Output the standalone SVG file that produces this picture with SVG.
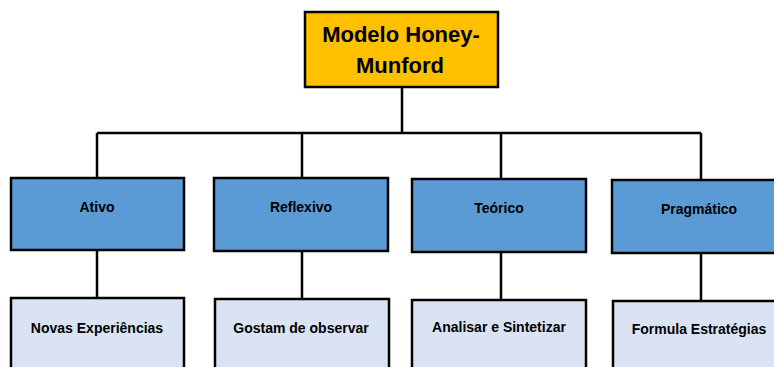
<svg xmlns="http://www.w3.org/2000/svg" width="774" height="367" viewBox="0 0 774 367">
<style>
.box{stroke:#000;stroke-width:2.5}
.top{fill:#FFC000}
.mid{fill:#5B9BD5}
.low{fill:#DAE3F3}
.conn{stroke:#000;stroke-width:2.5;fill:none}
text{font-family:"Liberation Sans",Arial,sans-serif;font-weight:bold;text-anchor:middle;fill:#000}
.t1{font-size:22px}
.t2{font-size:14px}
</style>
<rect width="774" height="367" fill="#fff"/>
<g id="connectors">
<path class="conn" d="M402 87V133M97 133H701M97 133V178M302 133V178M501 133V179M701 133V180"/>
<path class="conn" d="M97 250V298M302 251V299M501 252V300M701 253V301"/>
</g>
<g id="n-root"><rect class="box top" x="305" y="12" width="193" height="75"/><text class="t1" x="401" y="42">Modelo Honey-</text><text class="t1" x="400" y="73">Munford</text></g>
<g id="n-ativo"><rect class="box mid" x="11" y="178" width="173" height="72"/><text class="t2" x="97" y="212">Ativo</text></g>
<g id="n-reflexivo"><rect class="box mid" x="214" y="178" width="174" height="73"/><text class="t2" x="301" y="212">Reflexivo</text></g>
<g id="n-teorico"><rect class="box mid" x="412" y="179" width="174" height="73"/><text class="t2" x="499" y="213">Teórico</text></g>
<g id="n-pragmatico"><rect class="box mid" x="612" y="180" width="180" height="73"/><text class="t2" x="699" y="214">Pragmático</text></g>
<g id="n-novas"><rect class="box low" x="11" y="298" width="173" height="80"/><text class="t2" x="97" y="333">Novas Experiências</text></g>
<g id="n-gostam"><rect class="box low" x="215" y="299" width="174" height="80"/><text class="t2" x="301" y="333">Gostam de observar</text></g>
<g id="n-analisar"><rect class="box low" x="412" y="300" width="174" height="80"/><text class="t2" x="499" y="332">Analisar e Sintetizar</text></g>
<g id="n-formula"><rect class="box low" x="613" y="301" width="180" height="80"/><text class="t2" x="699" y="334">Formula Estratégias</text></g>
</svg>
